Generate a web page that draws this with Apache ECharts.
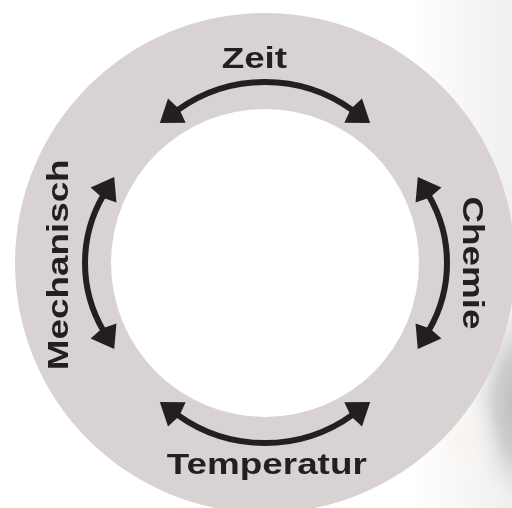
<!DOCTYPE html>
<html lang="de">
<head>
<meta charset="UTF-8">
<title>Sinnerscher Kreis</title>
<script src="https://cdn.jsdelivr.net/npm/echarts@6/dist/echarts.min.js"></script>
<style>
  html, body { margin: 0; padding: 0; background: #fff; }
  #main { width: 512px; height: 508px; }
</style>
</head>
<body>
<div id="main"></div>
<script>
// Die vier Faktoren (Winkel im Uhrzeigersinn ab oben)
var labels = ['Zeit', 'Chemie', 'Temperatur', 'Mechanisch'];
var labelAngle = [357, 90, 179.5, 269.5];
var labelRadius = [203, 206, 203, 205];
var labelRotate = [0, -90, 0, 90];

// Doppelpfeile: Scheitel-Radius, Mittelwinkel, Bogenradius, halber Bogenwinkel
var arrowApex = [181, 182, 180, 180];
var arrowAngle = [0, 90, 180, 270];
var arrowArcRadius = [150, 134, 150, 134];
var arrowHalfSweep = [36, 30.5, 36, 30.5];

var ringColor = '#d9d2d3';
var inkColor = '#231f20';

var chart = echarts.init(document.getElementById('main'));

// breite Schrift: Liberation Sans fett, horizontal gestreckt
function renderLabel(params, api) {
    var p = api.coord([api.value(0), api.value(1)]);
    return {
        type: 'text',
        x: p[0],
        y: p[1],
        scaleX: 1.27,
        rotation: api.value(2) * Math.PI / 180,
        style: {
            text: labels[params.dataIndex],
            fontFamily: 'Liberation Sans, Arial, sans-serif',
            fontWeight: 'bold',
            fontSize: 29,
            fill: inkColor,
            align: 'center',
            verticalAlign: 'middle'
        }
    };
}

function head(px, py, tx, ty, nx, ny) {
    var L = 21, W = 15;
    return {
        type: 'polygon',
        shape: { points: [
            [px + tx * L, py + ty * L],
            [px + nx * W, py + ny * W],
            [px - tx * 3, py - ty * 3],
            [px - nx * W, py - ny * W]
        ] },
        style: { fill: inkColor }
    };
}

function renderArrow(params, api) {
    var apex = api.value(0), mid = api.value(1);
    var R = api.value(2), half = api.value(3) * Math.PI / 180;
    var c0 = api.coord([0, 0]);
    var ap = api.coord([apex, mid]);
    var ux = (ap[0] - c0[0]) / apex, uy = (ap[1] - c0[1]) / apex;
    var cx = ap[0] - ux * R, cy = ap[1] - uy * R;
    var base = Math.atan2(uy, ux);
    var s = base - half, e = base + half;
    var sx = cx + R * Math.cos(s), sy = cy + R * Math.sin(s);
    var ex = cx + R * Math.cos(e), ey = cy + R * Math.sin(e);
    return {
        type: 'group',
        children: [
            {
                type: 'arc',
                shape: { cx: cx, cy: cy, r: R, startAngle: s, endAngle: e, clockwise: true },
                style: { stroke: inkColor, lineWidth: 6, fill: null }
            },
            head(ex, ey, -Math.sin(e), Math.cos(e), Math.cos(e), Math.sin(e)),
            head(sx, sy, Math.sin(s), -Math.cos(s), Math.cos(s), Math.sin(s))
        ]
    };
}

var labelData = labels.map(function (name, i) {
    return [labelRadius[i], labelAngle[i], labelRotate[i]];
});
var arrowData = arrowAngle.map(function (a, i) {
    return [arrowApex[i], a, arrowArcRadius[i], arrowHalfSweep[i]];
});

var option = {
    animation: false,
    backgroundColor: '#ffffff',
    graphic: [
        {
            type: 'rect', z: -10, silent: true,
            shape: { x: 0, y: 0, width: 512, height: 508 },
            style: { fill: new echarts.graphic.LinearGradient(0, 0, 1, 0, [
                { offset: 0, color: '#ffffff' },
                { offset: 0.8, color: '#ffffff' },
                { offset: 1, color: '#efefef' }
            ]) }
        },
        {
            // unscharfer Schatten rechts unten (Foto-Hintergrund)
            type: 'circle', z: -9, silent: true,
            x: 528, y: 405, scaleY: 1.8,
            shape: { cx: 0, cy: 0, r: 65 },
            style: { fill: new echarts.graphic.RadialGradient(0.5, 0.5, 0.5, [
                { offset: 0, color: 'rgba(165,165,165,0.85)' },
                { offset: 0.5, color: 'rgba(185,185,185,0.6)' },
                { offset: 1, color: 'rgba(255,255,255,0)' }
            ]) }
        },
        {
            type: 'circle', z: -8, silent: true,
            x: 465, y: 440,
            shape: { cx: 0, cy: 0, r: 40 },
            style: { fill: new echarts.graphic.RadialGradient(0.5, 0.5, 0.5, [
                { offset: 0, color: 'rgba(250,236,222,0.45)' },
                { offset: 1, color: 'rgba(255,255,255,0)' }
            ]) }
        }
    ],
    polar: { center: [265, 263], radius: 250 },
    radiusAxis: { type: 'value', min: 0, max: 250, show: false },
    angleAxis: { type: 'value', min: 0, max: 360, startAngle: 90, clockwise: true, show: false },
    series: [
        {
            type: 'pie',
            center: [265, 263],
            radius: [154, 250],
            silent: true,
            label: { show: false },
            labelLine: { show: false },
            emphasis: { disabled: true },
            itemStyle: { color: ringColor },
            data: [{ value: 1, name: 'Ring' }],
            z: 1
        },
        {
            type: 'custom',
            coordinateSystem: 'polar',
            renderItem: renderArrow,
            data: arrowData,
            silent: true,
            z: 3
        },
        {
            type: 'custom',
            coordinateSystem: 'polar',
            renderItem: renderLabel,
            data: labelData,
            silent: true,
            z: 4
        }
    ]
};

chart.setOption(option);
</script>
</body>
</html>
